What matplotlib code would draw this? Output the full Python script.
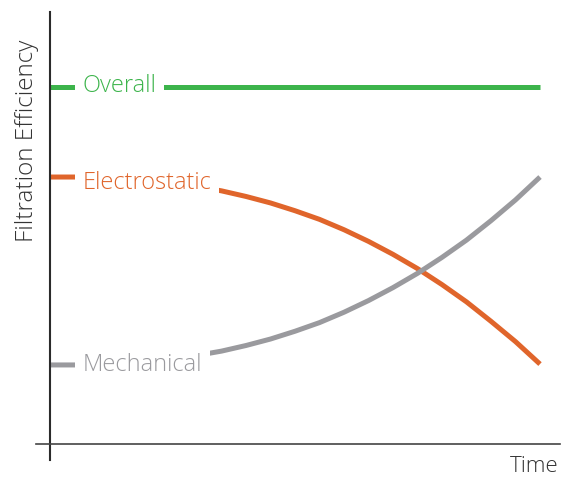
import matplotlib
matplotlib.use("Agg")
import matplotlib.pyplot as plt

# values (time 0..10, efficiency 0..100)
time = [0, 0.5, 1, 1.5, 2, 2.5, 3, 3.5, 4, 4.5, 5, 5.5, 6, 6.5, 7, 7.5, 8, 8.5, 9, 9.5, 10]
overall = [82.6] * len(time)
electrostatic = [61.8, 61.8, 61.7, 61.4, 61.0, 60.4, 59.6, 58.6, 57.3, 55.8, 54.0,
                 52.0, 49.6, 46.9, 43.9, 40.6, 36.9, 32.9, 28.4, 23.7, 18.5]
mechanical = [18.3, 18.3, 18.4, 18.7, 19.1, 19.7, 20.5, 21.5, 22.8, 24.3, 26.1,
              28.1, 30.5, 33.2, 36.2, 39.5, 43.2, 47.2, 51.7, 56.5, 61.8]

series = ["Overall", "Electrostatic", "Mechanical"]
colors = {"Overall": "#3cb44b", "Electrostatic": "#e0652b", "Mechanical": "#9a9a9e"}
label_y = {"Overall": 82.9, "Electrostatic": 60.4, "Mechanical": 18.4}
values = {"Overall": overall, "Electrostatic": electrostatic, "Mechanical": mechanical}

plt.rcParams["font.family"] = ["Open Sans", "DejaVu Sans"]

fig = plt.figure(figsize=(5.63, 4.79), dpi=100)
ax = fig.add_axes([50 / 563, 35 / 479, 510 / 563, 432 / 479])
ax.set_xlim(0, 510 / 49)
ax.set_ylim(0, 100)

for name in series:
    ax.plot(time, values[name], color=colors[name], lw=3.6, solid_capstyle="butt", zorder=2)
    ax.text(0.67, label_y[name], name, color=colors[name], fontsize=17, fontweight="light",
            va="center", ha="left", zorder=3,
            bbox=dict(boxstyle="square,pad=0.32", fc="white", ec="none"))

for s in ax.spines.values():
    s.set_visible(False)
ax.set_xticks([])
ax.set_yticks([])
ax.plot([0, 0], [-0.037, 1], transform=ax.transAxes, color="#2b2b2b", lw=1.5, clip_on=False)
ax.plot([-0.027, 1], [0, 0], transform=ax.transAxes, color="#444444", lw=1.2, clip_on=False)

ax.text(-0.045, 0.935, "Filtration Efficiency", transform=ax.transAxes, rotation=90,
        ha="center", va="top", fontsize=17.5, fontweight="light", color="#333333")
ax.text(0.998, -0.064, "Time", transform=ax.transAxes, ha="right", va="baseline",
        fontsize=16, fontweight="light", color="#333333")

fig.savefig("out.png", dpi=100)
